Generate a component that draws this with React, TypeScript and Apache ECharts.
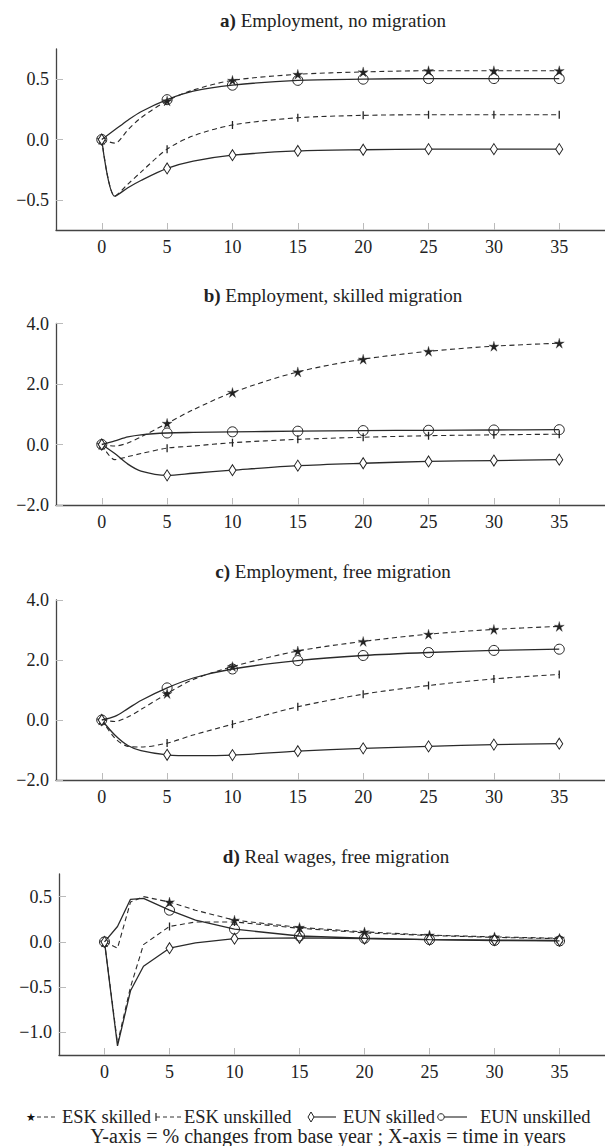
import React, { useEffect, useRef } from "react";
import * as echarts from "echarts";

// ---------- data ----------
const years = [0, 1, 2, 3, 5, 7, 10, 15, 20, 25, 30, 35];
const xTicks = [0, 5, 10, 15, 20, 25, 30, 35];

// a) Employment, no migration
const aEskSkilled = [0, -0.03, 0.08, 0.18, 0.32, 0.41, 0.49, 0.54, 0.56, 0.57, 0.57, 0.57];
const aEskUnskilled = [0, -0.47, -0.37, -0.27, -0.08, 0.03, 0.12, 0.18, 0.2, 0.205, 0.205, 0.205];
const aEunSkilled = [0, -0.47, -0.4, -0.34, -0.24, -0.18, -0.13, -0.095, -0.085, -0.08, -0.08, -0.08];
const aEunUnskilled = [0, 0.08, 0.16, 0.23, 0.33, 0.4, 0.45, 0.49, 0.5, 0.505, 0.505, 0.505];

// b) Employment, skilled migration
const bEskSkilled = [0, -0.05, 0.05, 0.25, 0.7, 1.15, 1.72, 2.4, 2.82, 3.08, 3.25, 3.35];
const bEskUnskilled = [0, -0.5, -0.4, -0.3, -0.12, -0.05, 0.06, 0.17, 0.24, 0.29, 0.32, 0.34];
const bEunSkilled = [0, -0.3, -0.65, -0.88, -1.02, -0.95, -0.85, -0.7, -0.62, -0.56, -0.53, -0.5];
const bEunUnskilled = [0, 0.12, 0.25, 0.32, 0.38, 0.4, 0.42, 0.44, 0.46, 0.47, 0.48, 0.49];

// c) Employment, free migration
const cEskSkilled = [0, -0.05, 0.1, 0.35, 0.88, 1.35, 1.78, 2.3, 2.62, 2.86, 3.02, 3.12];
const cEskUnskilled = [0, -0.6, -0.88, -0.9, -0.77, -0.5, -0.14, 0.44, 0.86, 1.15, 1.37, 1.52];
const cEunSkilled = [0, -0.5, -0.85, -1.02, -1.16, -1.19, -1.17, -1.04, -0.945, -0.88, -0.82, -0.79];
const cEunUnskilled = [0, 0.12, 0.38, 0.65, 1.07, 1.4, 1.7, 1.98, 2.15, 2.25, 2.32, 2.36];

// d) Real wages, free migration
const dEskSkilled = [0, -0.07, 0.44, 0.5, 0.44, 0.35, 0.24, 0.16, 0.11, 0.075, 0.055, 0.04];
const dEskUnskilled = [0, -1.12, -0.5, -0.03, 0.17, 0.22, 0.22, 0.15, 0.1, 0.07, 0.05, 0.035];
const dEunSkilled = [0, -1.15, -0.54, -0.27, -0.07, -0.01, 0.035, 0.045, 0.035, 0.025, 0.02, 0.015];
const dEunUnskilled = [0, 0.17, 0.47, 0.48, 0.35, 0.24, 0.14, 0.065, 0.04, 0.025, 0.015, 0.01];

const seriesNames = ["ESK skilled", "ESK unskilled", "EUN skilled", "EUN unskilled"];
const panelLetters = ["a)", "b)", "c)", "d)"];
const panelTitles = [
  "Employment, no migration",
  "Employment, skilled migration",
  "Employment, free migration",
  "Real wages, free migration",
];
const yRanges = [
  [-0.75, 0.75],
  [-2, 4],
  [-2, 4],
  [-1.25, 0.75],
];
const yTicks = [
  [-0.5, 0, 0.5],
  [-2, 0, 2, 4],
  [-2, 0, 2, 4],
  [-1, -0.5, 0, 0.5],
];
const panelData = [
  [aEskSkilled, aEskUnskilled, aEunSkilled, aEunUnskilled],
  [bEskSkilled, bEskUnskilled, bEunSkilled, bEunUnskilled],
  [cEskSkilled, cEskUnskilled, cEunSkilled, cEunUnskilled],
  [dEskSkilled, dEskUnskilled, dEunSkilled, dEunUnskilled],
];
const legendNote = "Y-axis = % changes from base year ; X-axis = time in years";

// ---------- layout / styles ----------
const FONT = "Liberation Serif";
const INK = "#222";
const grids = [
  { left: 56, top: 49, width: 554, height: 181 },
  { left: 56, top: 323.5, width: 554, height: 181.5 },
  { left: 56, top: 600, width: 554, height: 180 },
  { left: 59, top: 874, width: 559, height: 181 },
];
const titlePos = [
  [333, 20],
  [333, 295],
  [333, 571],
  [336, 856],
];
const smoothing = [0.3, 0.3, 0.3, false];

const STAR =
  "path://M0,-1 L0.2,-0.28 L0.95,-0.31 L0.33,0.11 L0.59,0.81 L0,0.35 L-0.59,0.81 L-0.33,0.11 L-0.95,-0.31 L-0.2,-0.28 Z";
const BAR = "path://M0,0 L1,0 L1,10 L0,10 Z";

const styleDefs = [
  {
    symbol: STAR,
    symbolSize: 10,
    itemStyle: { color: INK, borderColor: INK, borderWidth: 0.3 },
    lineStyle: { color: "#2a2a2a", width: 1.1, type: [5, 3.5] },
  },
  {
    symbol: BAR,
    symbolSize: [1.3, 8],
    itemStyle: { color: INK },
    lineStyle: { color: "#2a2a2a", width: 1.1, type: [5, 3.5] },
  },
  {
    symbol: "diamond",
    symbolSize: [7, 11],
    itemStyle: { color: "#fff", borderColor: INK, borderWidth: 1 },
    lineStyle: { color: "#2a2a2a", width: 1.3, type: "solid" },
  },
  {
    symbol: "circle",
    symbolSize: 10,
    itemStyle: { color: "rgba(255,255,255,0)", borderColor: INK, borderWidth: 1 },
    lineStyle: { color: "#2a2a2a", width: 1.3, type: "solid" },
  },
];

const fmt = (v: number) => {
  const s = Math.abs(v).toFixed(1);
  return v < -1e-9 ? "\u2212" + s : s;
};

function buildOption() {
  const xAxis: any[] = [];
  const yAxis: any[] = [];
  const series: any[] = [];
  const graphic: any[] = [];

  grids.forEach((g, p) => {
    xAxis.push({
      type: "value",
      gridIndex: p,
      min: -3.5,
      max: 38.5,
      axisLine: { show: true, onZero: false, lineStyle: { color: "#444", width: 1.3 } },
      axisTick: {
        show: true,
        inside: true,
        length: 7,
        customValues: xTicks,
        lineStyle: { color: "#bbb", width: 1 },
      },
      axisLabel: {
        show: true,
        customValues: xTicks,
        margin: 8,
        fontFamily: FONT,
        fontSize: 18,
        color: INK,
        formatter: (v: number) => String(v),
      },
      splitLine: { show: false },
    });
    yAxis.push({
      type: "value",
      gridIndex: p,
      min: yRanges[p][0],
      max: yRanges[p][1],
      axisLine: { show: true, onZero: false, lineStyle: { color: "#444", width: 1.3 } },
      axisTick: {
        show: true,
        inside: true,
        length: 7,
        customValues: yTicks[p],
        lineStyle: { color: "#bbb", width: 1 },
      },
      axisLabel: {
        show: true,
        customValues: yTicks[p],
        margin: 7,
        fontFamily: FONT,
        fontSize: 18,
        color: INK,
        formatter: fmt,
      },
      splitLine: { show: false },
    });

    panelData[p].forEach((vals, s) => {
      const st = styleDefs[s];
      series.push({
        name: seriesNames[s],
        type: "line",
        xAxisIndex: p,
        yAxisIndex: p,
        smooth: smoothing[p],
        showSymbol: true,
        showAllSymbol: true,
        symbol: st.symbol,
        symbolSize: st.symbolSize,
        symbolKeepAspect: false,
        itemStyle: st.itemStyle,
        lineStyle: st.lineStyle,
        emphasis: { disabled: true },
        z: 2 + s,
        data: years.map((x, i) => ({
          value: [x, vals[i]],
          symbol: x % 5 === 0 ? st.symbol : "none",
        })),
      });
    });

    graphic.push({
      type: "text",
      x: titlePos[p][0],
      y: titlePos[p][1],
      style: {
        text: "{b|" + panelLetters[p] + "} " + panelTitles[p],
        align: "center",
        verticalAlign: "middle",
        fontFamily: FONT,
        fontSize: 19,
        fill: INK,
        rich: {
          b: { fontFamily: FONT, fontSize: 19, fontWeight: "bold", fill: INK },
        },
      },
    });
  });

  // legend (drawn manually to reproduce marker + line sample + text)
  const LY = 1117;
  const textStyle = (text: string, x: number) => ({
    type: "text",
    x,
    y: LY,
    style: { text, fontFamily: FONT, fontSize: 18.5, fill: INK, align: "left", verticalAlign: "middle" },
  });
  graphic.push(
    {
      type: "text",
      x: 31,
      y: LY,
      style: { text: "\u2605", fontFamily: "DejaVu Sans", fontSize: 11, fill: "#111", align: "center", verticalAlign: "middle" },
    },
    { type: "line", shape: { x1: 37, y1: LY, x2: 58, y2: LY }, style: { stroke: "#333", lineWidth: 1, lineDash: [4, 3] } },
    textStyle(seriesNames[0], 62),
    { type: "line", shape: { x1: 156, y1: LY - 4, x2: 156, y2: LY + 4 }, style: { stroke: "#222", lineWidth: 1.2 } },
    { type: "line", shape: { x1: 156, y1: LY, x2: 181, y2: LY }, style: { stroke: "#333", lineWidth: 1, lineDash: [4, 3] } },
    textStyle(seriesNames[1], 184),
    {
      type: "polygon",
      shape: { points: [[311, LY - 5], [314, LY], [311, LY + 5], [308, LY]] },
      style: { fill: "#fff", stroke: "#222", lineWidth: 1 },
    },
    { type: "line", shape: { x1: 314, y1: LY, x2: 336, y2: LY }, style: { stroke: "#333", lineWidth: 1.2 } },
    textStyle(seriesNames[2], 343),
    { type: "circle", shape: { cx: 441, cy: LY, r: 3.3 }, style: { fill: "#fff", stroke: "#222", lineWidth: 1 } },
    { type: "line", shape: { x1: 444.3, y1: LY, x2: 467, y2: LY }, style: { stroke: "#333", lineWidth: 1.2 } },
    textStyle(seriesNames[3], 480),
    {
      type: "text",
      x: 328,
      y: 1136,
      style: { text: legendNote, fontFamily: FONT, fontSize: 20, fill: INK, align: "center", verticalAlign: "middle" },
    }
  );

  return {
    animation: false,
    backgroundColor: "#fff",
    textStyle: { fontFamily: FONT },
    grid: grids.map((g) => ({ ...g, containLabel: false })),
    xAxis,
    yAxis,
    series,
    graphic,
  };
}

export default function App() {
  const ref = useRef<HTMLDivElement>(null);
  useEffect(() => {
    document.body.style.margin = "0";
    if (!ref.current) return;
    const chart = echarts.init(ref.current, undefined, { renderer: "svg" });
    chart.setOption(buildOption() as any);
    return () => chart.dispose();
  }, []);
  return <div ref={ref} style={{ width: 605, height: 1146, background: "#fff" }} />;
}
